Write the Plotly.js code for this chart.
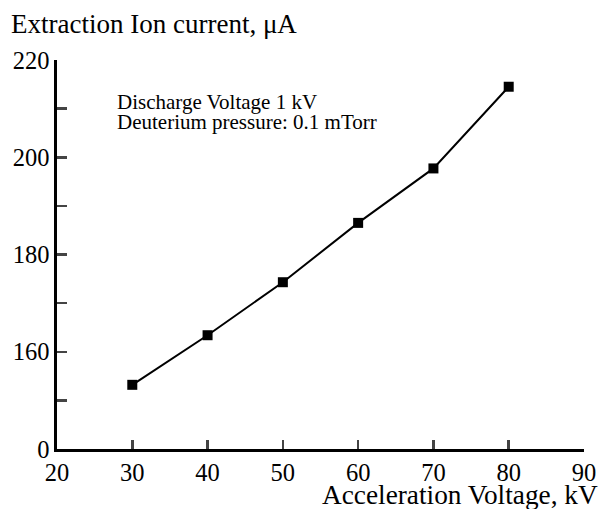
<!DOCTYPE html>
<html>
<head>
<meta charset="utf-8">
<script src="https://cdn.plot.ly/plotly-3.0.1.min.js"></script>
<style>html,body{margin:0;padding:0;background:#fff;}#chart{width:600px;height:509px;}</style>
</head>
<body>
<div id="chart"></div>
<script>
const voltage = [30, 40, 50, 60, 70, 80];
const current = [153.2, 163.4, 174.3, 186.5, 197.7, 214.5];
const xTicks = [20, 30, 40, 50, 60, 70, 80, 90];
const yTickVals = [140, 150, 160, 170, 180, 190, 200, 210, 220];
const yTickText = ["0", "", "160", "", "180", "", "200", "", "220"];
const yTitle = "Extraction Ion current, μA";
const xTitle = "Acceleration Voltage, kV";
const noteLines = ["Discharge Voltage 1 kV", "Deuterium pressure: 0.1 mTorr"];

const font = "Liberation Serif, Times New Roman, serif";

const annotations = [
  {text: yTitle, xref: "paper", yref: "paper", x: -0.092, y: 1.0, yshift: 36,
   xanchor: "left", yanchor: "middle", showarrow: false, font: {family: font, size: 27}},
  {text: xTitle, xref: "paper", yref: "paper", x: 1.0, y: 0, xshift: 16, yshift: -46,
   xanchor: "right", yanchor: "middle", showarrow: false, font: {family: font, size: 27.3}}
];
const noteY = [211.4, 207.3];
noteLines.forEach((t, i) => annotations.push({
  text: t, xref: "x", yref: "y", x: 27.7, y: noteY[i], xanchor: "left", yanchor: "middle",
  showarrow: false, font: {family: font, size: 21}
}));

Plotly.newPlot("chart", [{
  x: voltage, y: current, type: "scatter", mode: "lines+markers",
  line: {color: "#000", width: 2},
  marker: {symbol: "square", size: 10, color: "#000"}
}], {
  width: 600, height: 509,
  margin: {l: 57, r: 16, t: 60, b: 60},
  paper_bgcolor: "#fff", plot_bgcolor: "#fff",
  showlegend: false,
  font: {family: font, color: "#000", size: 24},
  xaxis: {
    range: [20, 90], tickvals: xTicks, ticks: "inside", ticklen: 9, tickwidth: 2.5,
    showline: true, linewidth: 2.7, linecolor: "#000", showgrid: false, zeroline: false,
    tickfont: {family: font, size: 24.5}
  },
  yaxis: {
    range: [140, 220], tickvals: yTickVals, ticktext: yTickText, ticks: "inside",
    ticklen: 10, tickwidth: 2.5, showline: true, linewidth: 2.7, linecolor: "#000",
    showgrid: false, zeroline: false, tickfont: {family: font, size: 24.5}
  },
  annotations: annotations
}, {displayModeBar: false, staticPlot: true});
</script>
</body>
</html>
